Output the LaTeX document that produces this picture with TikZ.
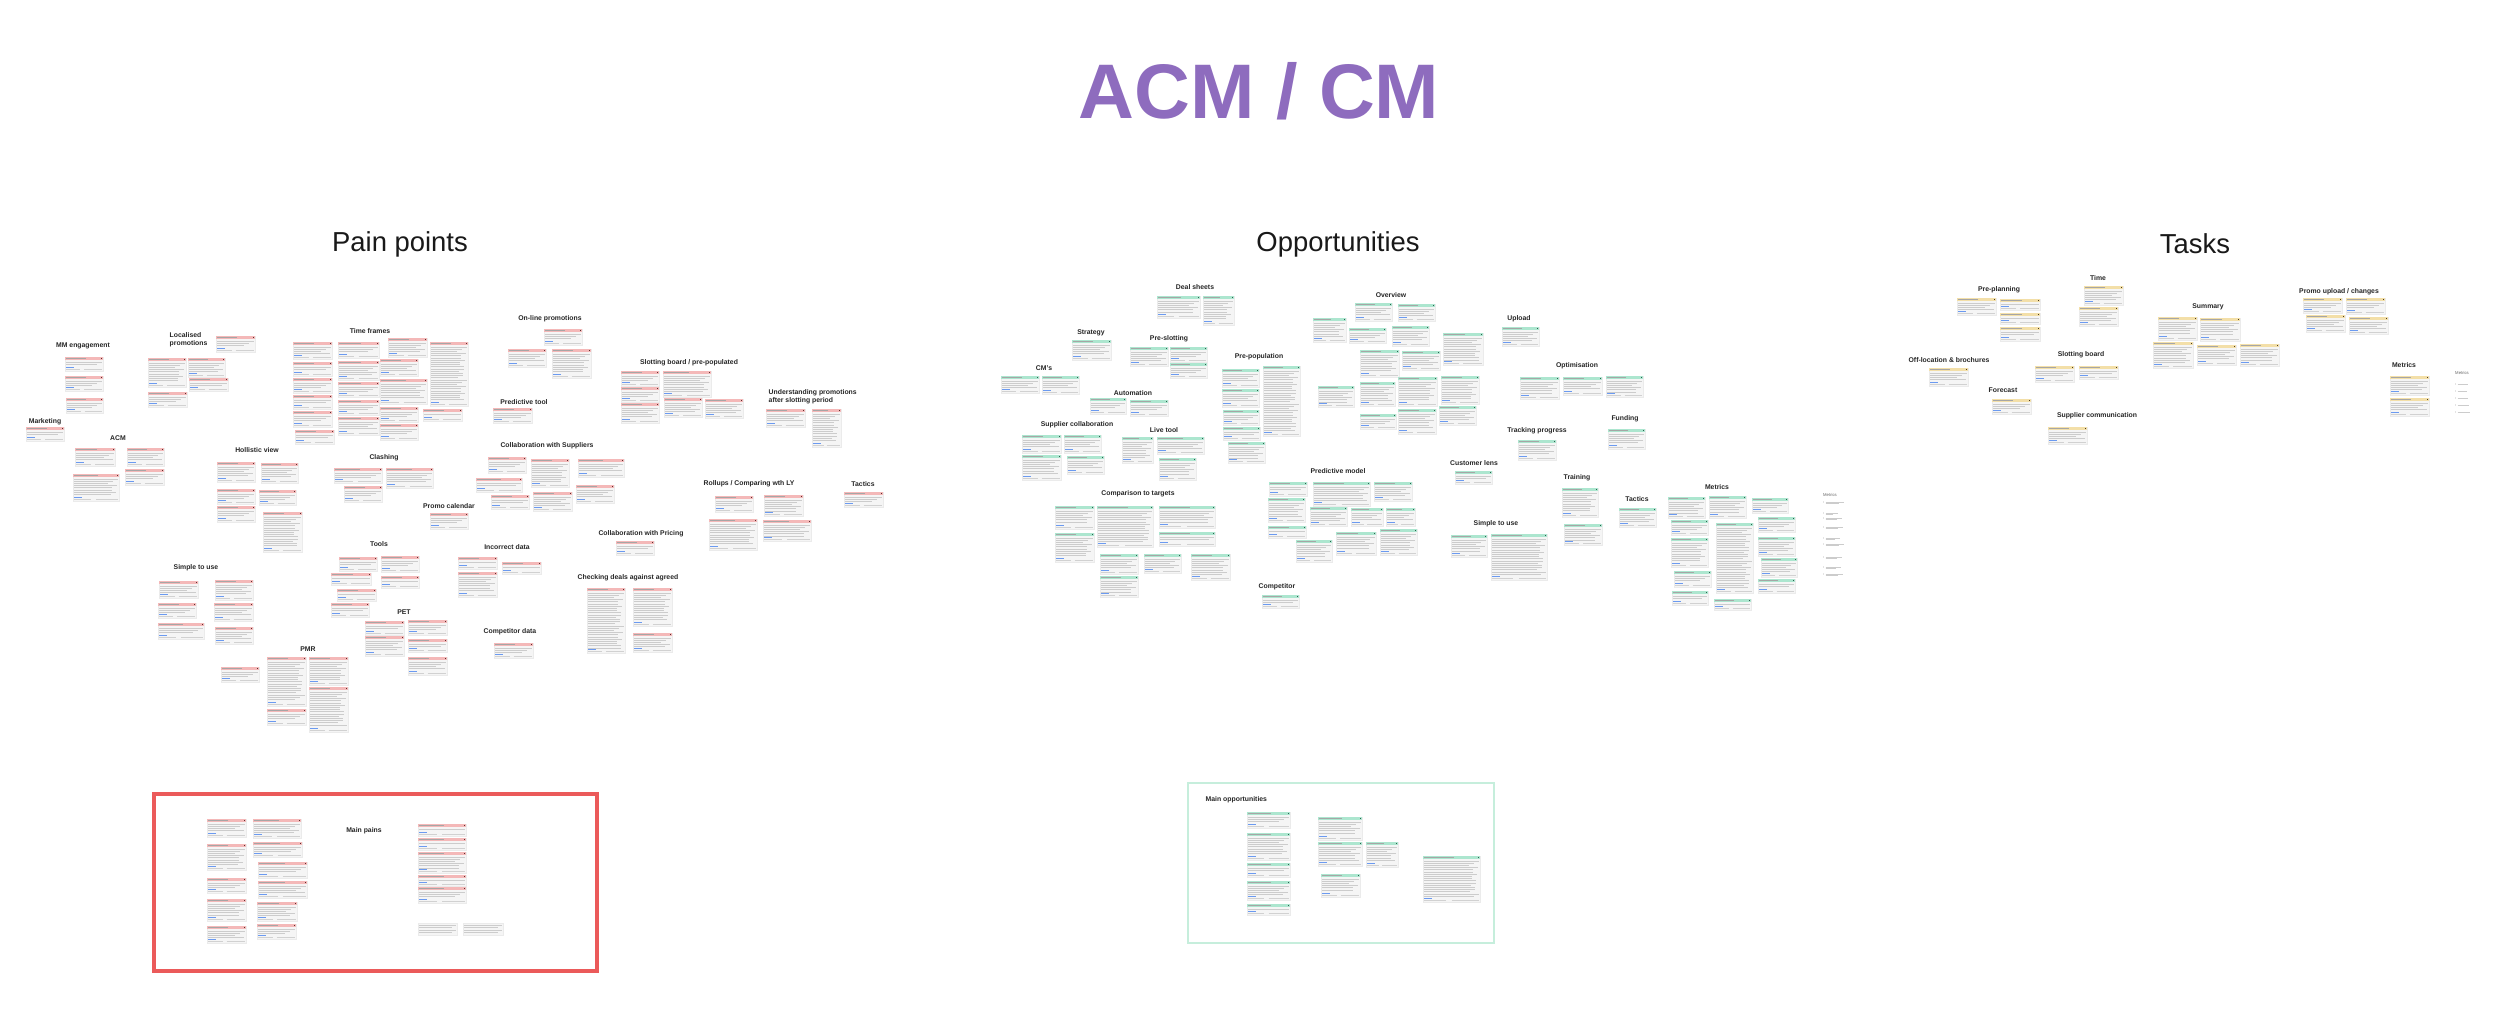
\documentclass[tikz,border=0pt]{standalone}
\usepackage{fontspec}
\setmainfont{Liberation Sans}
\definecolor{titlec}{RGB}{142,108,190}
\definecolor{painhdr}{HTML}{F4B8B8}
\definecolor{opphdr}{HTML}{ACE6CF}
\definecolor{taskhdr}{HTML}{F3DFA8}
\definecolor{cbodyc}{HTML}{F5F5F5}
\definecolor{linkc}{HTML}{6B9AF0}
\definecolor{painbox}{HTML}{EB5A5A}
\definecolor{oppbox}{HTML}{C6EEDC}
\definecolor{paini}{HTML}{5A2E2E}
\definecolor{oppi}{HTML}{2E5E4E}
\definecolor{taski}{HTML}{4A3A20}
\colorlet{iconc}{paini}
\colorlet{hdrc}{painhdr}
\tikzset{
  cbody/.style={fill=cbodyc,draw=black!8,line width=0.15pt},
  ctext/.style={draw=black!20,line width=0.22pt},
  chtext/.style={draw=black!35,line width=0.2pt},
  clink/.style={draw=linkc,line width=0.22pt},
  cfoot/.style={draw=black!18,line width=0.2pt},
  ptitle/.style={font=\fontsize{22}{24}\selectfont\bfseries,text=titlec,inner sep=0pt},
  shead/.style={font=\fontsize{7.8}{9}\selectfont,text=black!90,inner sep=0pt},
  lbl/.style={font=\fontsize{1.95}{2.35}\selectfont\bfseries,text=black!85,inner sep=0pt},
  lbltwo/.style={lbl,align=left,anchor=north west},
  tinylbl/.style={font=\fontsize{1.2}{1.4}\selectfont,text=black!60,inner sep=0pt},
}
% card: x1 y1 x2 y2
\newcommand\crd[4]{%
  \pgfmathsetmacro\cA{#1}\pgfmathsetmacro\cB{#2}%
  \pgfmathsetmacro\cC{#3}\pgfmathsetmacro\cD{#4}%
  \pgfmathsetmacro\cH{\cB+2.8}\pgfmathsetmacro\cHm{\cB+1.4}%
  \pgfmathsetmacro\cHe{\cA+0.55*(\cC-\cA)}%
  \pgfmathsetmacro\cIa{\cC-2.4}\pgfmathsetmacro\cIb{\cC-0.6}%
  \pgfmathsetmacro\cIc{\cB+0.5}\pgfmathsetmacro\cId{\cB+2.3}%
  \pgfmathsetmacro\cL{\cA+1.3}\pgfmathsetmacro\cR{\cC-1.3}%
  \pgfmathsetmacro\cLk{\cD-3.6}\pgfmathsetmacro\cLe{\cA+9}%
  \pgfmathsetmacro\cF{\cD-1.4}%
  \pgfmathsetmacro\cFa{\cA+0.4*(\cC-\cA)}\pgfmathsetmacro\cFb{\cA+0.5*(\cC-\cA)}%
  \pgfmathtruncatemacro\cN{max(0,(\cD-\cB-10)/2.2)}%
  \fill[cbody] (\cA,\cB) rectangle (\cC,\cD);
  \fill[hdrc] (\cA,\cB) rectangle (\cC,\cH);
  \draw[chtext] (\cL,\cHm) -- (\cHe,\cHm);
  \fill[iconc] (\cIa,\cIc) rectangle (\cIb,\cId);
  \foreach \k in {0,...,\cN}{%
    \pgfmathsetmacro\cY{\cB+5+2.2*\k}%
    \pgfmathsetmacro\cE{\cR-3*mod(\k,3)-mod(\k*7,5)}%
    \draw[ctext] (\cL,\cY) -- (\cE,\cY);}
  \draw[clink] (\cL,\cLk) -- (\cLe,\cLk);
  \draw[cfoot] (\cL,\cF) -- (\cFa,\cF) (\cFb,\cF) -- (\cR,\cF);
}
\newcommand\crdplain[4]{%
  \pgfmathsetmacro\cA{#1}\pgfmathsetmacro\cB{#2}%
  \pgfmathsetmacro\cC{#3}\pgfmathsetmacro\cD{#4}%
  \pgfmathsetmacro\cL{\cA+1.3}\pgfmathsetmacro\cR{\cC-1.3}%
  \pgfmathtruncatemacro\cN{max(0,(\cD-\cB-5)/2.2)}%
  \fill[cbody] (\cA,\cB) rectangle (\cC,\cD);
  \foreach \k in {0,...,\cN}{%
    \pgfmathsetmacro\cY{\cB+2.5+2.2*\k}%
    \pgfmathsetmacro\cE{\cR-4*mod(\k,2)}%
    \draw[ctext] (\cL,\cY) -- (\cE,\cY);}
}
\begin{document}
\begin{tikzpicture}[x=0.01cm,y=-0.01cm]
\useasboundingbox (0,0) rectangle (2500,1033);
\fill[white] (0,0) rectangle (2500,1033);

% ---------- titles ----------
\node[ptitle] (title) at (1259,91) {ACM / CM};
\node[shead] (hpain) at (400,244) {Pain points};
\node[shead] (hopp) at (1338,244) {Opportunities};
\node[shead] (htask) at (2195,244) {Tasks};

% ---------- boxes ----------
\draw[painbox,line width=0.9pt] (154,794) rectangle (597,971);
\draw[oppbox,line width=0.8pt] (1188,783) rectangle (1494,943);

% ---------- pain points labels ----------
\node[lbl] (lmm) at (83,346) {MM engagement};
\node[lbltwo] (lloc) at (169,332) {Localised\\promotions};
\node[lbl] (lmkt) at (45,422) {Marketing};
\node[lbl] (lacm) at (118,438) {ACM};
\node[lbl] (ltime) at (370,331) {Time frames};
\node[lbl] (lholl) at (257,450) {Hollistic view};
\node[lbl] (lclash) at (384,458) {Clashing};
\node[lbl] (lpromo) at (449,506) {Promo calendar};
\node[lbl] (ltools) at (379,544) {Tools};
\node[lbl] (lsimp) at (196,568) {Simple to use};
\node[lbl] (lpet) at (404,612) {PET};
\node[lbl] (lpmr) at (308,649) {PMR};
\node[lbl] (linc) at (507,547) {Incorrect data};
\node[lbl] (lcompd) at (510,632) {Competitor data};
\node[lbl] (lonline) at (550,319) {On-line promotions};
\node[lbl] (lpredt) at (524,402) {Predictive tool};
\node[lbl] (lslot) at (689,363) {Slotting board / pre-populated};
\node[lbl] (lcsup) at (547,446) {Collaboration with Suppliers};
\node[lbltwo] (lund) at (768,389) {Understanding promotions\\after slotting period};
\node[lbl] (lroll) at (749,484) {Rollups / Comparing wth LY};
\node[lbl] (ltacp) at (863,484) {Tactics};
\node[lbl] (lcpri) at (641,534) {Collaboration with Pricing};
\node[lbl] (lcheck) at (628,578) {Checking deals against agreed};
\node[lbl] (lmainp) at (364,831) {Main pains};

% ---------- pain cards ----------
\colorlet{iconc}{paini}\colorlet{hdrc}{painhdr}
\foreach \a/\b/\c/\d in {
 65/357/103/371, 65/376/103/391, 66/398/103/413,
 216/336/255/352, 148/358/186/387, 188/358/225/377, 189/378/228/391, 148/392/187/407,
 26/427/64/441,
 75/448/115/466, 127/448/164/466, 73/474/119/501, 125/469/164/485,
 293/342/332/359, 293/362/332/376, 293/378/332/393, 293/395/332/409, 293/411/332/427, 295/430/334/444,
 338/342/379/358, 338/361/379/380, 338/382/379/397, 338/400/379/415, 338/417/379/435,
 388/338/427/357, 380/359/418/376, 380/379/427/404, 380/407/418/422, 380/424/418/440,
 430/342/468/406, 423/409/462/421,
 217/462/255/482, 261/463/298/483, 217/489/255/504, 259/490/296/505, 217/506/255/522, 263/512/302/552,
 334/468/382/483, 386/468/433/488, 344/486/382/502,
 430/513/468/529,
 339/557/377/571, 381/556/419/572, 331/573/371/585, 381/576/419/588, 337/589/376/601, 331/603/369/617,
 159/581/198/598, 215/580/253/600, 158/603/196/618, 214/603/253/621, 158/623/204/639, 215/627/253/644,
 365/621/404/635, 408/620/447/635, 365/636/404/656, 408/639/447/652, 408/657/447/675,
 221/667/259/682, 267/657/306/706, 309/657/348/685, 267/709/306/725, 309/687/348/732,
 458/557/497/569, 502/562/541/574, 458/572/497/597,
 494/643/533/658,
 544/329/582/345, 508/349/546/367, 552/349/591/378,
 493/408/532/423,
 488/457/526/473, 531/459/569/487, 578/459/624/477, 476/478/522/492, 491/495/529/509, 533/492/572/511, 576/485/614/503,
 621/371/659/386, 621/387/659/402, 621/403/659/423, 663/371/711/397, 664/398/702/417, 705/399/743/418,
 766/409/805/427, 812/409/841/447,
 715/496/753/512, 764/495/803/516, 709/519/757/550, 763/520/811/541,
 844/492/883/507,
 616/541/654/555,
 587/588/625/653, 633/588/672/626, 633/633/672/652,
 207/819/246/837, 207/844/246/870, 207/878/246/893, 207/899/246/921, 207/926/246/943,
 253/819/301/838, 253/842/302/857, 258/862/307/878, 258/881/307/898, 257/902/297/921, 257/924/296/939,
 418/824/466/836, 418/838/466/850, 418/852/466/873, 418/875/466/886, 418/887/466/903}
 {\crd{\a}{\b}{\c}{\d}}
\crdplain{418}{923}{457}{935}
\crdplain{463}{923}{503}{935}

% ---------- opportunities labels ----------
\node[lbl] (odeal) at (1195,287) {Deal sheets};
\node[lbl] (oover) at (1391,295) {Overview};
\node[lbl] (ostrat) at (1091,333) {Strategy};
\node[lbl] (opresl) at (1169,339) {Pre-slotting};
\node[lbl] (ocms) at (1044,368) {CM’s};
\node[lbl] (oupl) at (1519,319) {Upload};
\node[lbl] (oprepop) at (1259,357) {Pre-population};
\node[lbl] (ooptim) at (1577,366) {Optimisation};
\node[lbl] (oauto) at (1133,393) {Automation};
\node[lbl] (ofund) at (1625,419) {Funding};
\node[lbl] (osupc) at (1077,425) {Supplier collaboration};
\node[lbl] (olive) at (1164,430) {Live tool};
\node[lbl] (otrack) at (1537,431) {Tracking progress};
\node[lbl] (ocust) at (1474,463) {Customer lens};
\node[lbl] (opredm) at (1338,471) {Predictive model};
\node[lbl] (otrain) at (1577,478) {Training};
\node[lbl] (ocomp) at (1138,494) {Comparison to targets};
\node[lbl] (otact) at (1637,499) {Tactics};
\node[lbl] (ometr) at (1717,487) {Metrics};
\node[lbl] (osimp) at (1496,524) {Simple to use};
\node[lbl] (ocompet) at (1277,587) {Competitor};
\node[lbl,anchor=west] (omain) at (1205,800) {Main opportunities};

% ---------- opportunity cards ----------
\colorlet{iconc}{oppi}\colorlet{hdrc}{opphdr}
\foreach \a/\b/\c/\d in {
 1157/296/1200/318, 1203/296/1234/325,
 1072/340/1111/360,
 1130/347/1168/366, 1170/347/1207/362, 1170/363/1207/378,
 1001/376/1039/393, 1042/376/1079/394,
 1090/398/1126/414, 1130/400/1168/416,
 1022/435/1061/453, 1064/435/1101/453, 1022/455/1061/480, 1067/456/1104/474,
 1122/437/1153/463, 1157/437/1204/454, 1159/458/1196/480,
 1222/369/1259/387, 1222/389/1259/407, 1223/410/1259/425, 1223/427/1260/440, 1228/442/1265/463, 1263/366/1300/436,
 1313/318/1346/342, 1355/303/1392/321, 1398/304/1435/321, 1349/328/1386/343, 1392/326/1429/346,
 1360/350/1399/377, 1402/351/1440/370, 1443/333/1483/365, 1318/386/1354/407, 1360/382/1395/406,
 1398/377/1437/406, 1441/376/1479/404, 1398/409/1436/434, 1439/406/1476/425, 1360/414/1396/429,
 1269/482/1307/496, 1313/482/1370/506, 1374/482/1412/501, 1268/498/1305/522, 1310/507/1347/526,
 1351/508/1383/526, 1386/508/1415/526, 1268/526/1306/538, 1296/540/1332/562, 1336/532/1376/555, 1380/529/1417/555,
 1055/506/1094/529, 1097/506/1153/547, 1159/506/1215/528, 1055/533/1094/562, 1159/532/1215/546,
 1100/554/1138/574, 1144/554/1181/573, 1191/554/1230/580, 1100/576/1138/597,
 1262/595/1299/608,
 1455/471/1492/484,
 1451/535/1487/557, 1491/534/1547/580,
 1502/327/1539/346,
 1520/377/1559/399, 1563/377/1602/395, 1606/376/1643/397,
 1608/429/1645/449,
 1518/440/1556/460,
 1562/488/1598/517, 1564/524/1602/545,
 1619/508/1656/527,
 1668/497/1705/518, 1671/520/1708/535, 1671/538/1708/567, 1674/571/1711/587, 1672/591/1708/605,
 1709/496/1746/518, 1716/523/1753/593, 1714/599/1751/610,
 1752/498/1788/513, 1758/517/1795/532, 1758/537/1795/556, 1761/558/1797/577, 1758/579/1795/593,
 1247/812/1290/828, 1247/833/1290/860, 1247/863/1290/877, 1247/881/1290/900, 1247/904/1290/915,
 1318/817/1362/840, 1318/842/1362/866, 1366/842/1398/867, 1321/874/1360/897,
 1423/856/1480/902}
 {\crd{\a}{\b}{\c}{\d}}

% opportunity metrics list
\node[tinylbl] (olist) at (1830,495) {Metrics};
\foreach \yy/\w in {502/18, 513/12, 518/16, 527/17, 538/14, 544/18, 557/16, 567/15, 574/17}{
  \fill[black!45] (1823.5,\yy) circle (0.4);
  \draw[ctext] (1825.5,\yy) -- ++(\w,0);
  \draw[ctext] (1825.5,\yy+1.8) -- ++(\w-5,0);
}

% ---------- tasks labels ----------
\node[lbl] (tpre) at (1999,290) {Pre-planning};
\node[lbl] (ttime) at (2098,278) {Time};
\node[lbl] (tsum) at (2208,307) {Summary};
\node[lbl] (tupl) at (2339,292) {Promo upload / changes};
\node[lbl] (toff) at (1949,360) {Off-location \& brochures};
\node[lbl] (tslot) at (2081,355) {Slotting board};
\node[lbl] (tfore) at (2003,390) {Forecast};
\node[lbl] (tsupp) at (2097,416) {Supplier communication};
\node[lbl] (tmetr) at (2404,365) {Metrics};

% ---------- task cards ----------
\colorlet{iconc}{taski}\colorlet{hdrc}{taskhdr}
\foreach \a/\b/\c/\d in {
 1957/298/1996/315, 2000/299/2040/310, 2000/313/2040/324, 2000/327/2040/341,
 2084/286/2123/305, 2079/307/2118/326,
 2158/317/2197/340, 2200/318/2240/341, 2153/342/2193/368, 2197/345/2236/365, 2240/344/2279/366,
 2303/298/2342/313, 2346/298/2385/314, 2306/315/2345/332, 2349/317/2388/334,
 1929/368/1968/386,
 2035/366/2074/382, 2079/366/2118/379,
 1992/399/2031/414,
 2048/427/2087/444,
 2390/376/2429/395, 2390/398/2429/416}
 {\crd{\a}{\b}{\c}{\d}}

% tasks metrics list
\node[tinylbl] (tlist) at (2462,373) {Metrics};
\foreach \yy/\w in {384/10, 391/9, 398/10, 405/11, 412/12}{
  \fill[black!45] (2455.5,\yy) circle (0.4);
  \draw[ctext] (2457.5,\yy) -- ++(\w,0);
}
\end{tikzpicture}
\end{document}
